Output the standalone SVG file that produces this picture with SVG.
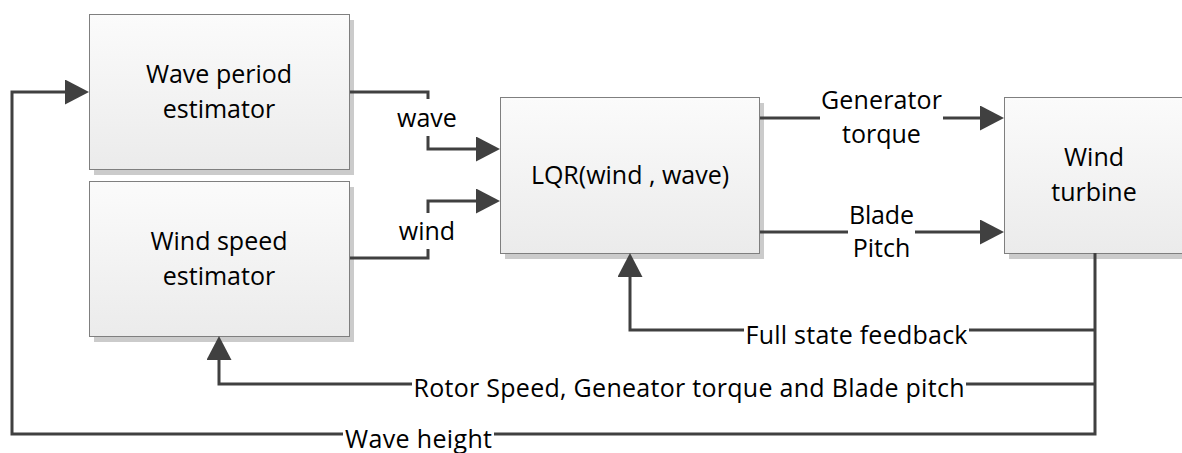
<svg xmlns="http://www.w3.org/2000/svg" width="1182" height="453" viewBox="0 0 1182 453">
  <style>
    .box { fill: url(#boxGrad); stroke: #7f7f7f; stroke-width: 1; }
    .shadow { fill: #cbcbcb; }
    .lbl { font-family: "Open Sans", "Liberation Sans", sans-serif; font-size: 25px; fill: #000; text-anchor: middle; }
    .wire { fill: none; stroke: #404040; stroke-width: 3; stroke-linejoin: miter; }
  </style>
  <defs>
    <linearGradient id="boxGrad" x1="0" y1="0" x2="0" y2="1">
      <stop offset="0" stop-color="#fbfbfb"/>
      <stop offset="1" stop-color="#ebebeb"/>
    </linearGradient>
    <marker id="arrow" markerUnits="userSpaceOnUse" markerWidth="24" markerHeight="25" refX="14" refY="12.5" orient="auto" viewBox="0 0 24 25">
      <path d="M0,0 L24,12.5 L0,25 Z" fill="#404040"/>
    </marker>
  </defs>

  <g id="node-wave-period">
    <rect class="shadow" x="94" y="20" width="260" height="155"/>
    <rect class="box" x="89.5" y="14.5" width="260" height="155"/>
    <text class="lbl" x="219" y="83">Wave period</text>
    <text class="lbl" x="219" y="118">estimator</text>
  </g>

  <g id="node-wind-speed">
    <rect class="shadow" x="94" y="187" width="260" height="155"/>
    <rect class="box" x="89.5" y="181.5" width="260" height="155"/>
    <text class="lbl" x="219" y="250">Wind speed</text>
    <text class="lbl" x="219" y="285">estimator</text>
  </g>

  <g id="node-lqr">
    <rect class="shadow" x="505" y="103" width="259" height="156"/>
    <rect class="box" x="500.5" y="97.5" width="259" height="156"/>
    <text class="lbl" x="630" y="184">LQR(wind , wave)</text>
  </g>

  <g id="node-wind-turbine">
    <rect class="shadow" x="1009" y="103" width="260" height="156"/>
    <rect class="box" x="1004.5" y="97.5" width="260" height="156"/>
    <text class="lbl" x="1094" y="166">Wind</text>
    <text class="lbl" x="1094" y="201">turbine</text>
  </g>

  <g id="connectors">
    <!-- wave estimate to LQR -->
    <path class="wire" d="M350,92 H428 V99"/>
    <path class="wire" d="M428,136 V149 H490" marker-end="url(#arrow)"/>
    <!-- wind estimate to LQR -->
    <path class="wire" d="M350,258 H428 V249"/>
    <path class="wire" d="M428,213 V201 H490" marker-end="url(#arrow)"/>
    <!-- generator torque -->
    <path class="wire" d="M760,118 H820"/>
    <path class="wire" d="M943,118 H994" marker-end="url(#arrow)"/>
    <!-- blade pitch -->
    <path class="wire" d="M760,232 H848"/>
    <path class="wire" d="M915,232 H994" marker-end="url(#arrow)"/>
    <!-- trunk from turbine -->
    <path class="wire" d="M1095,253 V434 H494"/>
    <path class="wire" d="M343,434 H12 V92 H79" marker-end="url(#arrow)"/>
    <!-- full state feedback -->
    <path class="wire" d="M1095,330 H969"/>
    <path class="wire" d="M744,330 H630 V263" marker-end="url(#arrow)"/>
    <!-- rotor speed etc -->
    <path class="wire" d="M1095,384 H966"/>
    <path class="wire" d="M412,384 H219 V346" marker-end="url(#arrow)"/>
  </g>

  <g id="connector-labels">
    <text class="lbl" x="427" y="127">wave</text>
    <text class="lbl" x="427" y="240">wind</text>
    <text class="lbl" x="881.5" y="109" textLength="121" lengthAdjust="spacing">Generator</text>
    <text class="lbl" x="881.5" y="143">torque</text>
    <text class="lbl" x="881.5" y="224" textLength="65" lengthAdjust="spacing">Blade</text>
    <text class="lbl" x="881.5" y="257">Pitch</text>
    <text class="lbl" x="856.5" y="344" textLength="222" lengthAdjust="spacing">Full state feedback</text>
    <text class="lbl" x="689" y="397" textLength="551" lengthAdjust="spacing">Rotor Speed, Geneator torque and Blade pitch</text>
    <text class="lbl" x="418.5" y="448" textLength="147" lengthAdjust="spacing">Wave height</text>
  </g>
</svg>
